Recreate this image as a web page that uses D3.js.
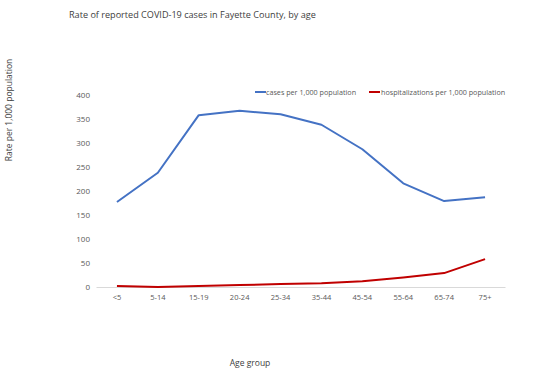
<!DOCTYPE html>
<html><head><meta charset="utf-8">
<script src="https://cdn.jsdelivr.net/npm/d3@7"></script>
<style>body{margin:0;background:#fff}svg{display:block}text{font-family:"Open Sans","Liberation Sans",sans-serif;}</style>
</head><body>
<svg id="c" width="534" height="377"></svg>
<script>
const categories = ["<5","5-14","15-19","20-24","25-34","35-44","45-54","55-64","65-74","75+"];
const cases = [177,238,358,367,360,338,287,216,179,187];
const hospitalizations = [2,0,2,4,6,8,12,20,29,58];
const yTicks = [0,50,100,150,200,250,300,350,400];
const seriesNames = ["cases per 1,000 population","hospitalizations per 1,000 population"];
const colors = ["#4472c4","#c00000"];

const svg = d3.select("#c");
const x = d3.scaleBand().domain(categories).range([96.5,505.5]);
const y = d3.scaleLinear().domain([0,400]).range([287,95]);

svg.append("text").attr("x",69).attr("y",18).attr("font-size",9.1).attr("fill","#404040")
  .text("Rate of reported COVID-19 cases in Fayette County, by age");

svg.append("line").attr("x1",x.range()[0]).attr("x2",x.range()[1]).attr("y1",y(0)+0.5).attr("y2",y(0)+0.5)
  .attr("stroke","#d9d9d9").attr("stroke-width",1);

svg.selectAll(".yt").data(yTicks).enter().append("text")
  .attr("x",90).attr("y",d=>y(d)+3).attr("text-anchor","end").attr("font-size",8).attr("fill","#595959").text(d=>d);

svg.selectAll(".xt").data(categories).enter().append("text")
  .attr("x",d=>x(d)+x.bandwidth()/2).attr("y",300).attr("text-anchor","middle").attr("font-size",7.5).attr("fill","#595959").text(d=>d);

const line = d3.line().x((d,i)=>x(categories[i])+x.bandwidth()/2).y(d=>y(d));
[cases,hospitalizations].forEach((s,k)=>{
  svg.append("path").attr("d",line(s)).attr("fill","none").attr("stroke",colors[k]).attr("stroke-width",2).attr("stroke-linejoin","round");
});

const lg = [{x:255,tx:266},{x:369,tx:381}];
lg.forEach((l,k)=>{
  svg.append("line").attr("x1",l.x).attr("x2",l.x+11).attr("y1",92).attr("y2",92).attr("stroke",colors[k]).attr("stroke-width",2);
  svg.append("text").attr("x",l.tx).attr("y",95).attr("font-size",7.2).attr("fill","#595959").text(seriesNames[k]);
});

svg.append("text").attr("transform","translate(12,110) rotate(-90)").attr("text-anchor","middle").attr("font-size",8.5).attr("fill","#404040").text("Rate per 1,000 population");
svg.append("text").attr("x",250).attr("y",366).attr("text-anchor","middle").attr("font-size",8.5).attr("fill","#404040").text("Age group");
</script>
</body></html>
